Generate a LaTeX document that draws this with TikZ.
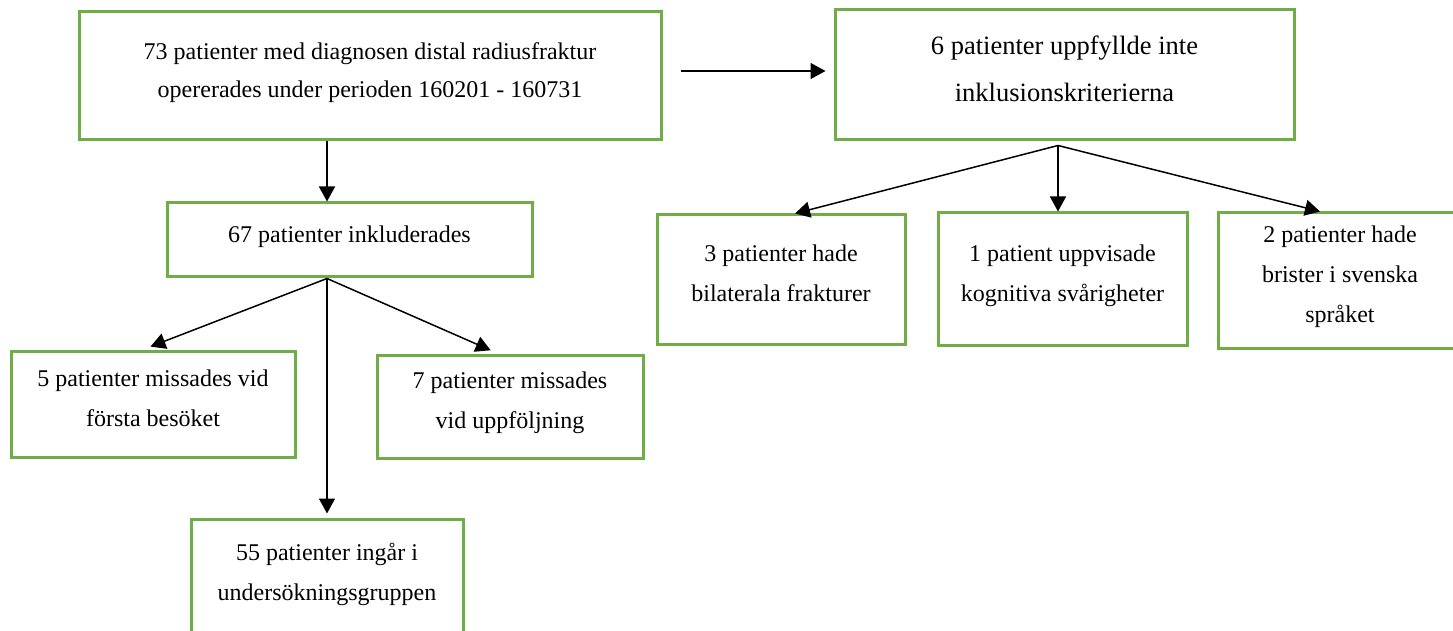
\documentclass[tikz,border=0pt]{standalone}
\usepackage{fontspec}
\setmainfont{Liberation Serif}
\usetikzlibrary{arrows.meta}

\definecolor{boxgreen}{HTML}{70AD47}
\tikzset{
    flowbox/.style={draw=boxgreen, line width=1.5pt, align=center, inner sep=0pt,
        font=\fontsize{12}{20}\selectfont, text depth=6pt},
    flowarrow/.style={line width=0.75pt, -{Triangle[length=7.5pt,width=8pt]}}
}

\begin{document}
\begin{tikzpicture}[x=0.5pt,y=-0.5pt]
    \useasboundingbox (0,0) rectangle (1453,631);
    \clip (0,0) rectangle (1453,631);

    % upper row
    \node[flowbox, minimum width=291pt, minimum height=64pt, font=\fontsize{12}{19}\selectfont] (total) at (370,76)
        {73 patienter med diagnosen distal radiusfraktur\\opererades under perioden 160201 - 160731};
    \node[flowbox, minimum width=229.5pt, minimum height=65pt, font=\fontsize{13.25}{23.5}\selectfont] (excluded) at (1064.5,75)
        {6 patienter uppfyllde inte\\inklusionskriterierna};

    % included branch
    \node[flowbox, minimum width=182.5pt, minimum height=37pt] (included) at (349.5,240)
        {67 patienter inkluderades};
    \node[flowbox, minimum width=142pt, minimum height=53pt] (missfirst) at (153,404)
        {5 patienter missades vid\\första besöket};
    \node[flowbox, minimum width=133pt, minimum height=51.5pt] (missfollow) at (510,406.5)
        {7 patienter missades\\vid uppföljning};
    \node[flowbox, minimum width=136pt, minimum height=59pt] (studygroup) at (327,578)
        {55 patienter ingår i\\undersökningsgruppen};

    % excluded branch
    \node[flowbox, minimum width=124pt, minimum height=64.5pt] (bilateral) at (781,279.5)
        {3 patienter hade\\bilaterala frakturer};
    \node[flowbox, minimum width=124.5pt, minimum height=66pt] (cognitive) at (1062.5,279)
        {1 patient uppvisade\\kognitiva svårigheter};
    \node[flowbox, minimum width=122pt, minimum height=67.5pt] (language) at (1340,280.5)
        {2 patienter hade\\brister i svenska\\språket};

    \coordinate (instem) at ([xshift=-11.25pt]included.south);
    \coordinate (exstem) at ([xshift=-3.25pt,yshift=-2pt]excluded.south);

    \draw[flowarrow, shorten <=9pt, shorten >=4pt] ([yshift=2.5pt]total.east) -- ([yshift=2.5pt]total.east -| excluded.west);
    \draw[flowarrow] (total.south -| instem) -- (included.north -| instem);

    \foreach \t/\s/\g in {missfirst/-5pt/4pt, missfollow/-6pt/4pt, studygroup/0pt/2pt}{%
        \draw[flowarrow, shorten >=\g] (instem) -- ([xshift=\s]\t.north);
    }
    \foreach \t/\s in {bilateral/7pt, language/-10pt}{%
        \draw[flowarrow] (exstem) -- ([xshift=\s]\t.north);
    }
    \draw[flowarrow] (exstem) -- (cognitive.north -| exstem);
\end{tikzpicture}
\end{document}
